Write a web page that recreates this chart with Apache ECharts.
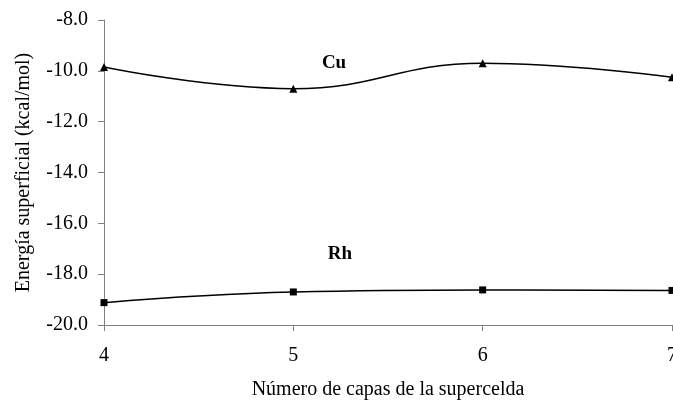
<!DOCTYPE html>
<html>
<head>
<meta charset="utf-8">
<script src="https://cdn.jsdelivr.net/npm/echarts@6/dist/echarts.min.js"></script>
<style>
html, body { margin: 0; padding: 0; background: #fff; }
#chart { width: 673px; height: 406px; }
</style>
</head>
<body>
<div id="chart"></div>
<script>
// numero de capas
var capas = [4, 5, 6, 7];
var cu = [-9.85, -10.7, -9.7, -10.25];
var rh = [-19.12, -18.7, -18.62, -18.64];
var yTicks = [-20, -18, -16, -14, -12, -10, -8];

function pares(xs, ys) {
    var out = [];
    for (var i = 0; i < xs.length; i++) {
        out.push([xs[i], ys[i]]);
    }
    return out;
}

var fuente = 'Liberation Serif';
var chart = echarts.init(document.getElementById('chart'));
var option = {
    animation: false,
    backgroundColor: '#fff',
    textStyle: { fontFamily: fuente },
    grid: { left: 104, right: 1, top: 20, bottom: 81, containLabel: false, outerBoundsMode: 'none' },
    xAxis: {
        type: 'value',
        min: 4,
        max: 7,
        interval: 1,
        name: 'Número de capas de la supercelda',
        nameLocation: 'middle',
        nameGap: 55,
        nameTextStyle: { fontFamily: fuente, fontSize: 20, color: '#000' },
        axisLine: { lineStyle: { color: '#808080', width: 1 } },
        axisTick: { length: 6, lineStyle: { color: '#808080' } },
        axisLabel: { fontFamily: fuente, fontSize: 20, color: '#000', margin: 21, hideOverlap: false },
        splitLine: { show: false }
    },
    yAxis: {
        type: 'value',
        min: yTicks[0],
        max: yTicks[yTicks.length - 1],
        interval: 2,
        name: 'Energía superficial (kcal/mol)',
        nameLocation: 'middle',
        nameGap: 70,
        nameTextStyle: { fontFamily: fuente, fontSize: 20, color: '#000' },
        axisLine: { show: true, lineStyle: { color: '#808080', width: 1 } },
        axisTick: { show: true, length: 6, lineStyle: { color: '#808080' } },
        axisLabel: {
            fontFamily: fuente, fontSize: 20, color: '#000', margin: 16,
            formatter: function (v) { return v.toFixed(1); }
        },
        splitLine: { show: false }
    },
    series: [{
            name: 'Cu',
            type: 'line',
            data: pares(capas, cu),
            smooth: 0.45,
            symbol: 'triangle',
            symbolSize: 8,
            itemStyle: { color: '#000' },
            lineStyle: { color: '#000', width: 1.5 },
            markPoint: {
                symbol: 'circle',
                symbolSize: 1,
                itemStyle: { color: 'transparent' },
                label: {
                    show: true, formatter: 'Cu', fontFamily: fuente,
                    fontSize: 19, fontWeight: 'bold', color: '#000'
                },
                data: [{ coord: [5.215, -9.69] }]
            }
        },
        {
            name: 'Rh',
            type: 'line',
            data: pares(capas, rh),
            smooth: 0.45,
            symbol: 'rect',
            symbolSize: 7,
            itemStyle: { color: '#000' },
            lineStyle: { color: '#000', width: 1.5 },
            markPoint: {
                symbol: 'circle',
                symbolSize: 1,
                itemStyle: { color: 'transparent' },
                label: {
                    show: true, formatter: 'Rh', fontFamily: fuente,
                    fontSize: 19, fontWeight: 'bold', color: '#000'
                },
                data: [{ coord: [5.246, -17.21] }]
            }
        }
    ]
};
chart.setOption(option);
</script>
</body>
</html>
